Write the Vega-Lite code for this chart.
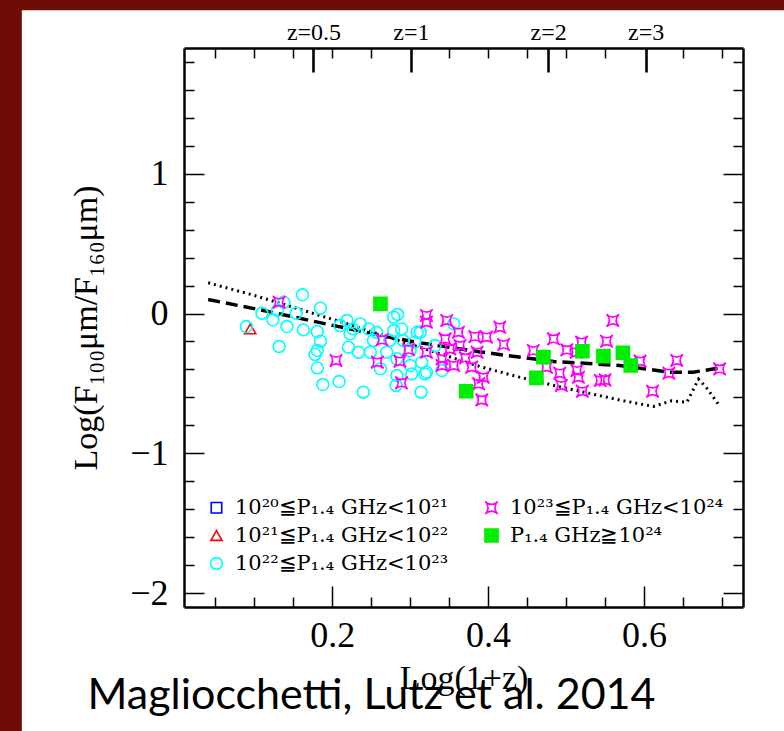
{
  "$schema": "https://vega.github.io/schema/vega-lite/v6.json",
  "width": 559,
  "height": 559,
  "autosize": {"type": "none"},
  "padding": {"left": 184, "top": 48, "right": 41, "bottom": 124},
  "background": "#6e0c06",
  "title": {
    "text": "Magliocchetti, Lutz et al. 2014",
    "orient": "bottom",
    "anchor": "middle",
    "frame": "group",
    "font": "Lato",
    "fontSize": 43,
    "fontWeight": "normal",
    "color": "black",
    "offset": 0,
    "dx": -92,
    "dy": -56
  },
  "config": {
    "view": {"stroke": null},
    "axis": {
      "zindex": 1,
      "grid": false,
      "domainColor": "black",
      "domainWidth": 2.5,
      "tickColor": "black",
      "labelColor": "black",
      "titleColor": "black",
      "labelFont": "Liberation Serif",
      "titleFont": "Liberation Serif",
      "titleFontWeight": "normal"
    },
    "legend": {
      "labelFont": "DejaVu Serif",
      "labelColor": "black",
      "zindex": 1
    }
  },
  "datasets": {
    "dotted": [
      {"x": 0.041, "y": 0.22}, {"x": 0.1, "y": 0.13}, {"x": 0.15, "y": 0.045},
      {"x": 0.22, "y": -0.075}, {"x": 0.3, "y": -0.22}, {"x": 0.39, "y": -0.38},
      {"x": 0.44, "y": -0.455}, {"x": 0.5, "y": -0.535}, {"x": 0.57, "y": -0.62},
      {"x": 0.612, "y": -0.665}, {"x": 0.635, "y": -0.625}, {"x": 0.655, "y": -0.635},
      {"x": 0.67, "y": -0.47}, {"x": 0.68, "y": -0.53}, {"x": 0.697, "y": -0.66}
    ],
    "dashed": [
      {"x": 0.041, "y": 0.1}, {"x": 0.108, "y": 0.026}, {"x": 0.18, "y": -0.06},
      {"x": 0.262, "y": -0.157}, {"x": 0.313, "y": -0.21}, {"x": 0.39, "y": -0.275},
      {"x": 0.484, "y": -0.343}, {"x": 0.569, "y": -0.372}, {"x": 0.633, "y": -0.42},
      {"x": 0.663, "y": -0.42}, {"x": 0.697, "y": -0.389}
    ],
    "points": [
      {"x": 0.095, "y": -0.11, "cat": "b"},
      {"x": 0.090, "y": -0.093, "cat": "c"}, {"x": 0.138, "y": 0.081, "cat": "c"},
      {"x": 0.162, "y": 0.134, "cat": "c"}, {"x": 0.110, "y": 0.002, "cat": "c"},
      {"x": 0.124, "y": -0.045, "cat": "c"}, {"x": 0.130, "y": 0.021, "cat": "c"},
      {"x": 0.142, "y": -0.093, "cat": "c"}, {"x": 0.132, "y": -0.236, "cat": "c"},
      {"x": 0.154, "y": 0.002, "cat": "c"}, {"x": 0.163, "y": -0.117, "cat": "c"},
      {"x": 0.185, "y": 0.038, "cat": "c"}, {"x": 0.181, "y": -0.129, "cat": "c"},
      {"x": 0.185, "y": -0.198, "cat": "c"}, {"x": 0.181, "y": -0.265, "cat": "c"},
      {"x": 0.178, "y": -0.293, "cat": "c"}, {"x": 0.181, "y": -0.389, "cat": "c"},
      {"x": 0.188, "y": -0.508, "cat": "c"}, {"x": 0.209, "y": -0.487, "cat": "c"},
      {"x": 0.240, "y": -0.563, "cat": "c"}, {"x": 0.210, "y": -0.086, "cat": "c"},
      {"x": 0.219, "y": -0.05, "cat": "c"}, {"x": 0.223, "y": -0.145, "cat": "c"},
      {"x": 0.221, "y": -0.241, "cat": "c"}, {"x": 0.227, "y": -0.11, "cat": "c"},
      {"x": 0.236, "y": -0.074, "cat": "c"}, {"x": 0.234, "y": -0.277, "cat": "c"},
      {"x": 0.247, "y": -0.11, "cat": "c"}, {"x": 0.249, "y": -0.277, "cat": "c"},
      {"x": 0.253, "y": -0.193, "cat": "c"}, {"x": 0.257, "y": -0.134, "cat": "c"},
      {"x": 0.262, "y": -0.396, "cat": "c"}, {"x": 0.270, "y": -0.277, "cat": "c"},
      {"x": 0.274, "y": -0.193, "cat": "c"}, {"x": 0.279, "y": -0.026, "cat": "c"},
      {"x": 0.284, "y": -0.007, "cat": "c"}, {"x": 0.279, "y": -0.122, "cat": "c"},
      {"x": 0.283, "y": -0.324, "cat": "c"}, {"x": 0.283, "y": -0.444, "cat": "c"},
      {"x": 0.282, "y": -0.515, "cat": "c"}, {"x": 0.289, "y": -0.11, "cat": "c"},
      {"x": 0.291, "y": -0.193, "cat": "c"}, {"x": 0.300, "y": -0.372, "cat": "c"},
      {"x": 0.302, "y": -0.432, "cat": "c"}, {"x": 0.309, "y": -0.134, "cat": "c"},
      {"x": 0.306, "y": -0.205, "cat": "c"}, {"x": 0.315, "y": -0.348, "cat": "c"},
      {"x": 0.319, "y": -0.432, "cat": "c"}, {"x": 0.314, "y": -0.563, "cat": "c"},
      {"x": 0.332, "y": -0.229, "cat": "c"}, {"x": 0.341, "y": -0.408, "cat": "c"},
      {"x": 0.356, "y": -0.074, "cat": "c"}, {"x": 0.300, "y": -0.265, "cat": "c"},
      {"x": 0.313, "y": -0.134, "cat": "c"}, {"x": 0.321, "y": -0.42, "cat": "c"},
      {"x": 0.132, "y": 0.081, "cat": "d"}, {"x": 0.205, "y": -0.336, "cat": "d"},
      {"x": 0.321, "y": -0.014, "cat": "d"}, {"x": 0.321, "y": -0.062, "cat": "d"},
      {"x": 0.258, "y": -0.348, "cat": "d"}, {"x": 0.264, "y": -0.188, "cat": "d"},
      {"x": 0.287, "y": -0.341, "cat": "d"}, {"x": 0.289, "y": -0.496, "cat": "d"},
      {"x": 0.298, "y": -0.258, "cat": "d"}, {"x": 0.321, "y": -0.277, "cat": "d"},
      {"x": 0.345, "y": -0.181, "cat": "d"}, {"x": 0.347, "y": -0.05, "cat": "d"},
      {"x": 0.362, "y": -0.134, "cat": "d"}, {"x": 0.351, "y": -0.253, "cat": "d"},
      {"x": 0.341, "y": -0.324, "cat": "d"}, {"x": 0.341, "y": -0.372, "cat": "d"},
      {"x": 0.356, "y": -0.372, "cat": "d"}, {"x": 0.364, "y": -0.229, "cat": "d"},
      {"x": 0.371, "y": -0.317, "cat": "d"}, {"x": 0.383, "y": -0.165, "cat": "d"},
      {"x": 0.386, "y": -0.277, "cat": "d"}, {"x": 0.379, "y": -0.384, "cat": "d"},
      {"x": 0.394, "y": -0.456, "cat": "d"}, {"x": 0.388, "y": -0.503, "cat": "d"},
      {"x": 0.392, "y": -0.618, "cat": "d"}, {"x": 0.398, "y": -0.169, "cat": "d"},
      {"x": 0.415, "y": -0.098, "cat": "d"}, {"x": 0.420, "y": -0.222, "cat": "d"},
      {"x": 0.458, "y": -0.265, "cat": "d"}, {"x": 0.475, "y": -0.384, "cat": "d"},
      {"x": 0.484, "y": -0.181, "cat": "d"}, {"x": 0.492, "y": -0.427, "cat": "d"},
      {"x": 0.494, "y": -0.515, "cat": "d"}, {"x": 0.501, "y": -0.26, "cat": "d"},
      {"x": 0.513, "y": -0.277, "cat": "d"}, {"x": 0.514, "y": -0.408, "cat": "d"},
      {"x": 0.516, "y": -0.456, "cat": "d"}, {"x": 0.520, "y": -0.205, "cat": "d"},
      {"x": 0.521, "y": -0.556, "cat": "d"}, {"x": 0.544, "y": -0.479, "cat": "d"},
      {"x": 0.550, "y": -0.475, "cat": "d"}, {"x": 0.552, "y": -0.198, "cat": "d"},
      {"x": 0.560, "y": -0.05, "cat": "d"}, {"x": 0.595, "y": -0.341, "cat": "d"},
      {"x": 0.611, "y": -0.556, "cat": "d"}, {"x": 0.632, "y": -0.427, "cat": "d"},
      {"x": 0.642, "y": -0.336, "cat": "d"}, {"x": 0.697, "y": -0.396, "cat": "d"},
      {"x": 0.262, "y": 0.069, "cat": "e"}, {"x": 0.372, "y": -0.556, "cat": "e"},
      {"x": 0.462, "y": -0.46, "cat": "e"}, {"x": 0.471, "y": -0.312, "cat": "e"},
      {"x": 0.521, "y": -0.27, "cat": "e"}, {"x": 0.548, "y": -0.305, "cat": "e"},
      {"x": 0.573, "y": -0.281, "cat": "e"}, {"x": 0.583, "y": -0.372, "cat": "e"}
    ]
  },
  "resolve": {"axis": {"x": "independent", "y": "independent"}},
  "layer": [
    {
      "data": {"values": [{}]},
      "mark": {"type": "rect", "color": "white"},
      "encoding": {
        "x": {"datum": -0.198, "type": "quantitative", "axis": null, "scale": {"domain": [0.01, 0.727], "nice": false, "zero": false}},
        "x2": {"datum": 0.79},
        "y": {"datum": 2.17, "type": "quantitative", "axis": null, "scale": {"domain": [-2.1, 1.9], "nice": false, "zero": false}},
        "y2": {"datum": -2.99}
      }
    },
    {
      "data": {"name": "dotted"},
      "mark": {"type": "line", "color": "black", "strokeWidth": 3, "strokeDash": [2, 4]},
      "encoding": {
        "x": {"field": "x", "type": "quantitative", "scale": {"domain": [0.01, 0.727], "nice": false, "zero": false},
          "axis": {"zindex": 2, "orient": "bottom", "values": [0.2, 0.4, 0.6], "format": ".1f", "ticks": false,
            "labelFontSize": 36, "labelPadding": 11, "title": "Log(1+z)", "titleFontSize": 34, "titlePadding": 8}},
        "y": {"field": "y", "type": "quantitative", "scale": {"domain": [-2.1, 1.9], "nice": false, "zero": false},
          "axis": {"zindex": 2, "orient": "left", "values": [-2, -1, 0, 1], "format": "d", "ticks": false,
            "labelFontSize": 36, "labelPadding": 16, "title": "Log(F₁₀₀μm/F₁₆₀μm)", "titleFontSize": 34, "titlePadding": 26}}
      }
    },
    {
      "data": {"name": "dashed"},
      "mark": {"type": "line", "color": "black", "strokeWidth": 3.5, "strokeDash": [12, 6]},
      "encoding": {
        "x": {"field": "x", "type": "quantitative",
          "axis": {"zindex": 2, "orient": "top", "values": [0.1761, 0.301, 0.4771, 0.6021], "ticks": false,
            "labelExpr": "datum.value < 0.2 ? 'z=0.5' : datum.value < 0.4 ? 'z=1' : datum.value < 0.55 ? 'z=2' : 'z=3'",
            "labelFontSize": 24, "labelPadding": 4, "title": null}},
        "y": {"field": "y", "type": "quantitative",
          "axis": {"zindex": 2, "orient": "right", "values": [-2, -1, 0, 1], "ticks": false, "labels": false, "title": null}}
      }
    },
    {
      "data": {"name": "points"},
      "transform": [{"filter": "datum.cat == 'b'"}],
      "mark": {"type": "point", "strokeWidth": 1.6, "opacity": 1},
      "encoding": {
        "x": {"field": "x", "type": "quantitative",
          "axis": {"zindex": 2, "orient": "bottom", "offset": -21, "domain": false, "values": [0.2, 0.4, 0.6], "tickSize": 21, "tickWidth": 1.5, "labels": false, "title": null}},
        "y": {"field": "y", "type": "quantitative",
          "axis": {"zindex": 2, "orient": "left", "offset": -20, "domain": false, "values": [-2, -1, 0, 1], "tickSize": 20, "tickWidth": 1.5, "labels": false, "title": null}},
        "shape": {"field": "cat", "type": "nominal",
          "scale": {"domain": ["a", "b", "c", "d", "e"], "range": ["square", "triangle-up", "circle", "M-1,-1Q0,-0.1,1,-1Q0.1,0,1,1Q0,0.1,-1,1Q-0.1,0,-1,-1Z", "square"]},
          "legend": {
            "title": null, "orient": "none", "legendX": 22, "legendY": 449, "columns": 2, "direction": "vertical",
            "labelFontSize": 21, "labelLimit": 400, "labelOffset": 8, "columnPadding": 32, "rowPadding": 6,
            "padding": 0, "symbolStrokeWidth": 1.6,
            "labelExpr": "datum.value == 'a' ? '10²⁰≦P₁.₄ GHz<10²¹' : datum.value == 'b' ? '10²¹≦P₁.₄ GHz<10²²' : datum.value == 'c' ? '10²²≦P₁.₄ GHz<10²³' : datum.value == 'd' ? '10²³≦P₁.₄ GHz<10²⁴' : 'P₁.₄ GHz≧10²⁴'"
          }},
        "stroke": {"field": "cat", "type": "nominal",
          "scale": {"domain": ["a", "b", "c", "d", "e"], "range": ["#0000ff", "#ff0000", "#00ffff", "#ff00ff", "#00ee00"]}},
        "fill": {"field": "cat", "type": "nominal",
          "scale": {"domain": ["a", "b", "c", "d", "e"], "range": ["transparent", "transparent", "transparent", "transparent", "#00ee00"]}},
        "size": {"field": "cat", "type": "nominal",
          "scale": {"domain": ["a", "b", "c", "d", "e"], "range": [110, 170, 150, 150, 100]}}
      }
    },
    {
      "data": {"name": "points"},
      "transform": [{"filter": "datum.cat == 'c'"}],
      "mark": {"type": "point", "strokeWidth": 1.6, "opacity": 1},
      "encoding": {
        "x": {"field": "x", "type": "quantitative",
          "axis": {"zindex": 2, "orient": "top", "offset": -24, "domain": false, "values": [0.1761, 0.301, 0.4771, 0.6021], "tickSize": 24, "tickWidth": 2.6, "labels": false, "title": null}},
        "y": {"field": "y", "type": "quantitative",
          "axis": {"zindex": 2, "orient": "right", "offset": -20, "domain": false, "values": [-2, -1, 0, 1], "tickSize": 20, "tickWidth": 1.5, "labels": false, "title": null}},
        "shape": {"field": "cat", "type": "nominal"},
        "stroke": {"field": "cat", "type": "nominal"},
        "fill": {"field": "cat", "type": "nominal"},
        "size": {"field": "cat", "type": "nominal"}
      }
    },
    {
      "data": {"name": "points"},
      "transform": [{"filter": "datum.cat == 'd'"}],
      "mark": {"type": "point", "strokeWidth": 1.6, "opacity": 1},
      "encoding": {
        "x": {"field": "x", "type": "quantitative",
          "axis": {"zindex": 2, "orient": "bottom", "offset": -10, "domain": false, "values": [0.05, 0.1, 0.15, 0.25, 0.3, 0.35, 0.45, 0.5, 0.55, 0.65, 0.7], "tickSize": 10, "tickWidth": 1.5, "labels": false, "title": null}},
        "y": {"field": "y", "type": "quantitative",
          "axis": {"zindex": 2, "orient": "left", "offset": -10, "domain": false, "values": [-1.8, -1.6, -1.4, -1.2, -0.8, -0.6, -0.4, -0.2, 0.2, 0.4, 0.6, 0.8, 1.2, 1.4, 1.6, 1.8], "tickSize": 10, "tickWidth": 1.5, "labels": false, "title": null}},
        "shape": {"field": "cat", "type": "nominal"},
        "stroke": {"field": "cat", "type": "nominal"},
        "fill": {"field": "cat", "type": "nominal"},
        "size": {"field": "cat", "type": "nominal"}
      }
    },
    {
      "data": {"name": "points"},
      "transform": [{"filter": "datum.cat == 'e'"}],
      "mark": {"type": "point", "strokeWidth": 1.6, "opacity": 1},
      "encoding": {
        "x": {"field": "x", "type": "quantitative",
          "axis": {"zindex": 2, "orient": "top", "offset": -10, "domain": false, "values": [0.05, 0.1, 0.15, 0.2, 0.25, 0.35, 0.4, 0.45, 0.5, 0.55, 0.65, 0.7], "tickSize": 10, "tickWidth": 1.5, "labels": false, "title": null}},
        "y": {"field": "y", "type": "quantitative",
          "axis": {"zindex": 2, "orient": "right", "offset": -10, "domain": false, "values": [-1.8, -1.6, -1.4, -1.2, -0.8, -0.6, -0.4, -0.2, 0.2, 0.4, 0.6, 0.8, 1.2, 1.4, 1.6, 1.8], "tickSize": 10, "tickWidth": 1.5, "labels": false, "title": null}},
        "shape": {"field": "cat", "type": "nominal"},
        "stroke": {"field": "cat", "type": "nominal"},
        "fill": {"field": "cat", "type": "nominal"},
        "size": {"field": "cat", "type": "nominal"}
      }
    }
  ]
}
